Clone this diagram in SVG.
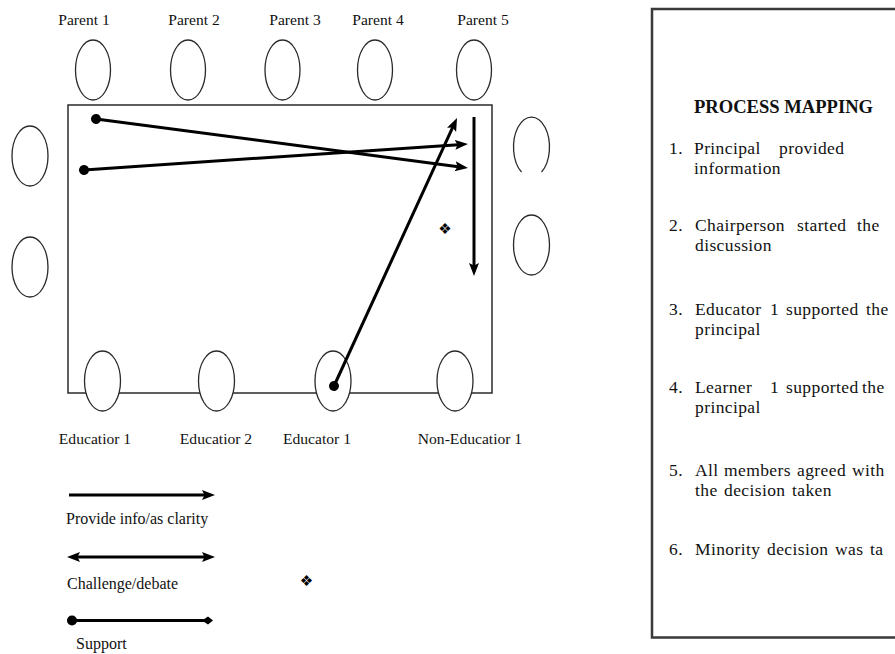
<svg xmlns="http://www.w3.org/2000/svg" width="895" height="654" viewBox="0 0 895 654">
  <style>
    .seat { fill: #ffffff; stroke: #2a2a2a; stroke-width: 1.3; }
    .lbl { font-family: "Liberation Serif", "Times New Roman", serif; font-size: 15.6px; fill: #111; text-anchor: middle; }
    .leg { font-family: "Liberation Serif", "Times New Roman", serif; font-size: 16px; fill: #111; }
    .conn { stroke: #000; stroke-width: 3; fill: none; }
    .pm { font-family: "Liberation Serif", "Times New Roman", serif; font-size: 17.5px; letter-spacing: 0.4px; fill: #111; }
    .pmh { font-family: "Liberation Serif", "Times New Roman", serif; font-size: 18px; font-weight: bold; fill: #111; }
    .sym { font-family: "DejaVu Sans", sans-serif; font-size: 15px; fill: #000; text-anchor: middle; }
  </style>
  <defs>
    <marker id="arrow" markerUnits="userSpaceOnUse" markerWidth="14" markerHeight="11" refX="7" refY="5" orient="auto-start-reverse" viewBox="0 0 14 10">
      <path d="M0,0 L13,5 L0,10 L2.5,5 z" fill="#000"/>
    </marker>
    <marker id="dot" markerUnits="userSpaceOnUse" markerWidth="12" markerHeight="12" refX="6" refY="6" orient="auto" viewBox="0 0 12 12">
      <circle cx="6" cy="6" r="5" fill="#000"/>
    </marker>
    <marker id="diamond" markerUnits="userSpaceOnUse" markerWidth="12" markerHeight="10" refX="2" refY="4.5" orient="auto" viewBox="0 0 12 9">
      <path d="M0,4.5 L6,0.5 L11,4.5 L6,8.5 z" fill="#000"/>
    </marker>
  </defs>

  <rect width="895" height="654" fill="#ffffff"/>

  <!-- table -->
  <g id="table">
    <rect x="68" y="105" width="424" height="288" fill="none" stroke="#2a2a2a" stroke-width="1.5"/>
  </g>

  <!-- parents (top) -->
  <g id="parent1">
    <ellipse class="seat" cx="93" cy="70" rx="17.5" ry="30"/>
    <text class="lbl" x="84" y="25">Parent 1</text>
  </g>
  <g id="parent2">
    <ellipse class="seat" cx="188" cy="70" rx="17.5" ry="30"/>
    <text class="lbl" x="194" y="25">Parent 2</text>
  </g>
  <g id="parent3">
    <ellipse class="seat" cx="282.5" cy="70" rx="17.5" ry="30"/>
    <text class="lbl" x="295" y="25">Parent 3</text>
  </g>
  <g id="parent4">
    <ellipse class="seat" cx="375" cy="70" rx="17.5" ry="30"/>
    <text class="lbl" x="378" y="25">Parent 4</text>
  </g>
  <g id="parent5">
    <ellipse class="seat" cx="474" cy="70" rx="17.5" ry="30"/>
    <text class="lbl" x="483" y="25">Parent 5</text>
  </g>

  <!-- side seats -->
  <g id="left-seat-1">
    <ellipse class="seat" cx="30" cy="156" rx="18" ry="30"/>
  </g>
  <g id="left-seat-2">
    <ellipse class="seat" cx="30" cy="267" rx="18" ry="30"/>
  </g>
  <g id="right-seat-1">
    <path class="seat" d="M521.5,172 A18,30 0 1 1 541.5,172" fill="none"/>
  </g>
  <g id="right-seat-2">
    <ellipse class="seat" cx="531.5" cy="245" rx="18" ry="30"/>
  </g>

  <!-- bottom seats -->
  <g id="educatior1">
    <ellipse class="seat" cx="102.5" cy="381" rx="18" ry="30"/>
    <text class="lbl" x="95" y="444">Educatior 1</text>
  </g>
  <g id="educatior2">
    <ellipse class="seat" cx="216.5" cy="381" rx="18" ry="30"/>
    <text class="lbl" x="216" y="444">Educatior 2</text>
  </g>
  <g id="educator1">
    <ellipse class="seat" cx="333" cy="381" rx="18" ry="30"/>
    <text class="lbl" x="317" y="444">Educator 1</text>
  </g>
  <g id="non-educatior1">
    <ellipse class="seat" cx="455" cy="381" rx="18" ry="30"/>
    <text class="lbl" x="470" y="444">Non-Educatior 1</text>
  </g>

  <!-- connectors -->
  <g id="connectors">
    <line class="conn" x1="96" y1="119" x2="462.05" y2="167.22" marker-start="url(#dot)" marker-end="url(#arrow)"/>
    <line class="conn" x1="84" y1="170" x2="462.01" y2="144.41" marker-start="url(#dot)" marker-end="url(#arrow)"/>
    <line class="conn" x1="334" y1="386" x2="454.5" y2="123.45" marker-start="url(#dot)" marker-end="url(#arrow)"/>
    <line class="conn" x1="474" y1="117" x2="474" y2="270" marker-end="url(#arrow)"/>
  </g>

  <text class="sym" x="445" y="233.5">❖</text>

  <!-- legend -->
  <g id="legend">
    <line class="conn" x1="69" y1="495" x2="209" y2="495" marker-end="url(#arrow)"/>
    <text class="leg" x="66" y="524">Provide info/as clarity</text>
    <line class="conn" x1="73" y1="557" x2="209" y2="557" marker-start="url(#arrow)" marker-end="url(#arrow)"/>
    <text class="leg" x="67" y="589">Challenge/debate</text>
    <line class="conn" x1="72" y1="620.5" x2="204" y2="620.5" stroke-width="4" marker-start="url(#dot)" marker-end="url(#diamond)"/>
    <text class="leg" x="76" y="649">Support</text>
  </g>

  <text class="sym" x="306.5" y="585.5">❖</text>

  <!-- process mapping box -->
  <g id="process-mapping">
    <rect x="652" y="9" width="260" height="628.5" fill="#ffffff" stroke="#3a3a3a" stroke-width="2.5"/>
    <text class="pmh" x="694" y="113" textLength="179" lengthAdjust="spacingAndGlyphs">PROCESS MAPPING</text>

    <text class="pm" y="154"><tspan x="669">1.</tspan><tspan x="694">Principal</tspan><tspan x="779">provided</tspan><tspan x="694" y="173.5">information</tspan></text>

    <text class="pm" y="231"><tspan x="669">2.</tspan><tspan x="695">Chairperson</tspan><tspan x="797">started</tspan><tspan x="857">the</tspan><tspan x="695" y="250.5">discussion</tspan></text>

    <text class="pm" y="315"><tspan x="669">3.</tspan><tspan x="695">Educator</tspan><tspan x="770">1</tspan><tspan x="786">supported</tspan><tspan x="866">the</tspan><tspan x="695" y="334.5">principal</tspan></text>

    <text class="pm" y="393"><tspan x="669">4.</tspan><tspan x="695">Learner</tspan><tspan x="770">1</tspan><tspan x="786">supported</tspan><tspan x="862">the</tspan><tspan x="695" y="412.5">principal</tspan></text>

    <text class="pm" y="476"><tspan x="669">5.</tspan><tspan x="695">All</tspan><tspan x="724">members</tspan><tspan x="797">agreed</tspan><tspan x="852">with</tspan><tspan x="695" y="495.5">the</tspan><tspan x="724">decision</tspan><tspan x="792">taken</tspan></text>

    <text class="pm" y="555"><tspan x="669">6.</tspan><tspan x="695">Minority</tspan><tspan x="767">decision</tspan><tspan x="835">was</tspan><tspan x="870">ta</tspan></text>
  </g>
</svg>
